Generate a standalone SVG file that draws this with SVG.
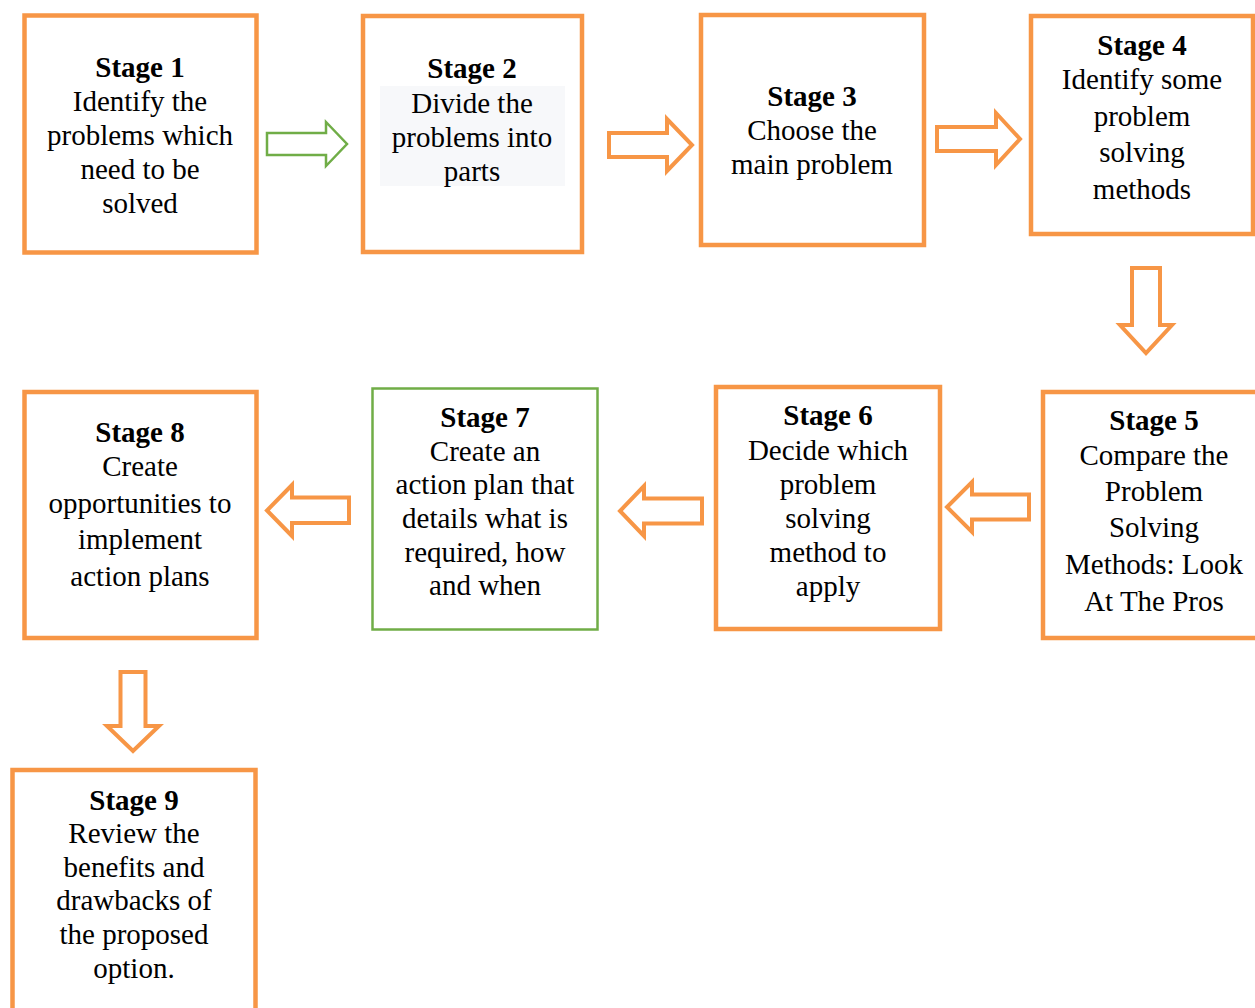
<svg xmlns="http://www.w3.org/2000/svg" width="1255" height="1008" viewBox="0 0 1255 1008">
<style>
.box{fill:#fff;stroke:#F79646;stroke-width:4.5}
.gbox{fill:#fff;stroke:#70AD47;stroke-width:2.5}
.arr{fill:#fff;stroke:#F79646;stroke-width:4;stroke-linejoin:miter}
.garr{fill:#fff;stroke:#70AD47;stroke-width:2.5;stroke-linejoin:miter}
text{font-family:"Liberation Serif","Times New Roman",serif;font-size:29px;fill:#000;text-anchor:middle}
.b{font-weight:bold}
</style>
<rect width="1255" height="1008" fill="#fff"/>
<g id="connectors">
<polygon class="garr" points="267,133 326,133 326,122 347,144 326,166 326,155 267,155"/>
<polygon class="arr" points="609,133 667,133 667,119 692,145 667,171 667,157 609,157"/>
<polygon class="arr" points="937,127 996,127 996,113 1020,139 996,165 996,151 937,151"/>
<polygon class="arr" points="1132,268 1160,268 1160,325 1172,325 1146,353 1120,325 1132,325"/>
<polygon class="arr" points="1029,494.5 972,494.5 972,482 947,507 972,532 972,519.5 1029,519.5"/>
<polygon class="arr" points="702,498.5 644,498.5 644,486 620,511 644,536 644,523.5 702,523.5"/>
<polygon class="arr" points="349,497.5 292,497.5 292,485 267,510.5 292,536 292,523 349,523"/>
<polygon class="arr" points="120.5,672 145.5,672 145.5,726 159,726 133,751 107,726 120.5,726"/>
</g>
<g id="stage1">
<rect class="box" x="24.5" y="15.5" width="232" height="237"/>
<text x="140" y="77" class="b">Stage 1</text>
<text x="140" y="111">Identify the</text>
<text x="140" y="145">problems which</text>
<text x="140" y="179">need to be</text>
<text x="140" y="213">solved</text>
</g>
<g id="stage2">
<rect class="box" x="363" y="16" width="219" height="236"/>
<rect x="380" y="86" width="185" height="100" fill="#F7F8FA"/>
<text x="472" y="78" class="b">Stage 2</text>
<text x="472" y="113" fill="#222">Divide the</text>
<text x="472" y="147" fill="#222">problems into</text>
<text x="472" y="181" fill="#222">parts</text>
</g>
<g id="stage3">
<rect class="box" x="701" y="15" width="223" height="230"/>
<text x="812" y="106" class="b">Stage 3</text>
<text x="812" y="140">Choose the</text>
<text x="812" y="174">main problem</text>
</g>
<g id="stage4">
<rect class="box" x="1031" y="16" width="222" height="218"/>
<text x="1142" y="55" class="b">Stage 4</text>
<text x="1142" y="89">Identify some</text>
<text x="1142" y="126">problem</text>
<text x="1142" y="162">solving</text>
<text x="1142" y="199">methods</text>
</g>
<g id="stage5">
<rect class="box" x="1043" y="392" width="225" height="246"/>
<text x="1154" y="430" class="b">Stage 5</text>
<text x="1154" y="465">Compare the</text>
<text x="1154" y="501">Problem</text>
<text x="1154" y="537">Solving</text>
<text x="1154" y="574">Methods: Look</text>
<text x="1154" y="611">At The Pros</text>
</g>
<g id="stage6">
<rect class="box" x="716" y="387" width="224" height="242"/>
<text x="828" y="425" class="b">Stage 6</text>
<text x="828" y="460">Decide which</text>
<text x="828" y="494">problem</text>
<text x="828" y="528">solving</text>
<text x="828" y="562">method to</text>
<text x="828" y="596">apply</text>
</g>
<g id="stage7">
<rect class="gbox" x="372.5" y="388.5" width="225" height="241"/>
<text x="485" y="427" class="b">Stage 7</text>
<text x="485" y="461">Create an</text>
<text x="485" y="494">action plan that</text>
<text x="485" y="528">details what is</text>
<text x="485" y="562">required, how</text>
<text x="485" y="595">and when</text>
</g>
<g id="stage8">
<rect class="box" x="24.5" y="392" width="232" height="246"/>
<text x="140" y="442" class="b">Stage 8</text>
<text x="140" y="476">Create</text>
<text x="140" y="513">opportunities to</text>
<text x="140" y="549">implement</text>
<text x="140" y="586">action plans</text>
</g>
<g id="stage9">
<rect class="box" x="12.5" y="770" width="243" height="260"/>
<text x="134" y="810" class="b">Stage 9</text>
<text x="134" y="843">Review the</text>
<text x="134" y="877">benefits and</text>
<text x="134" y="910">drawbacks of</text>
<text x="134" y="944">the proposed</text>
<text x="134" y="978">option.</text>
</g>
</svg>
